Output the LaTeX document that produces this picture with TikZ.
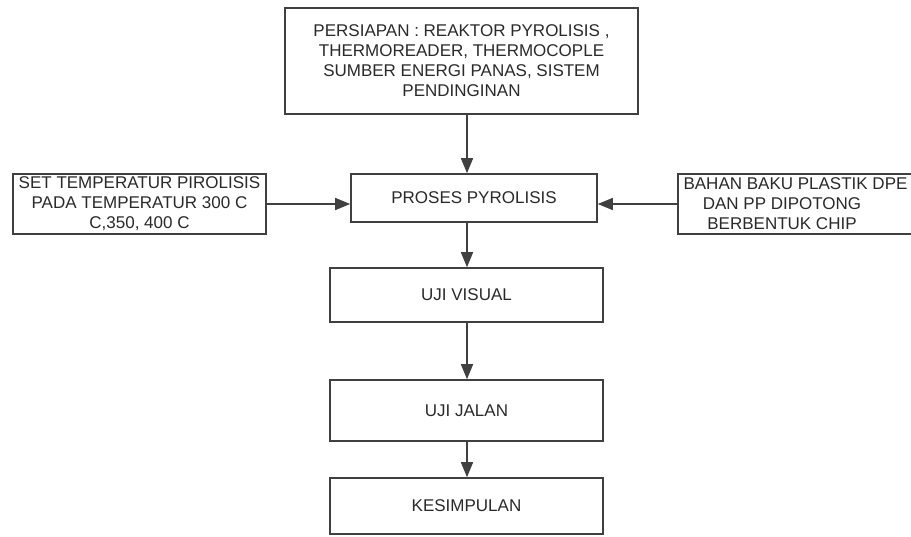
\documentclass[tikz,border=0pt]{standalone}
\usepackage{fontspec}
\setmainfont{Liberation Sans}
\usetikzlibrary{arrows.meta}
\definecolor{linec}{HTML}{404040}
\definecolor{textc}{HTML}{2A2A2A}
\begin{document}
\begin{tikzpicture}[x=1pt,y=-1pt,
  box/.style={draw=linec, line width=1.6pt, rectangle, inner sep=0pt, align=center,
    text=textc, font=\fontsize{17}{20}\selectfont},
  txt/.style={inner sep=0pt, align=center, text=textc, font=\fontsize{17}{20}\selectfont},
  arr/.style={draw=linec, line width=1.4pt, -{Triangle[length=15pt,width=12pt]}}]
\useasboundingbox[fill=white] (0,0) rectangle (911,536);
\node[box, minimum width=353pt, minimum height=106pt] (prep) at (461.5,61)
  {PERSIAPAN : REAKTOR PYROLISIS ,\\THERMOREADER, THERMOCOPLE\\SUMBER ENERGI PANAS, SISTEM\\PENDINGINAN};
\node[box, minimum width=253pt, minimum height=60pt] (set) at (139.5,204)
  {SET TEMPERATUR PIROLISIS\\PADA TEMPERATUR 300 C\\C,350, 400 C};
\node[box, minimum width=246pt, minimum height=48pt] (proses) at (474,198) {PROSES PYROLISIS};
\node[box, minimum width=237pt, minimum height=60pt] (bahan) at (796.5,204) {};
\node[txt] (bahantxt) at (782,204)
  {\hspace*{27pt}BAHAN BAKU PLASTIK DPE\\DAN PP DIPOTONG\\BERBENTUK CHIP};
\node[box, minimum width=273pt, minimum height=54pt] (visual) at (466.5,295) {UJI VISUAL};
\node[box, minimum width=273pt, minimum height=61pt] (jalan) at (466.5,410.5) {UJI JALAN};
\node[box, minimum width=273pt, minimum height=56pt] (kesim) at (466.5,506) {KESIMPULAN};
\coordinate (axis) at (467,0);
\coordinate (mid) at (0,204);
\draw[arr] (prep.south -| axis) -- (proses.north -| axis);
\draw[arr] (proses.south -| axis) -- (visual.north -| axis);
\draw[arr] (visual.south -| axis) -- (jalan.north -| axis);
\draw[arr] (jalan.south -| axis) -- (kesim.north -| axis);
\draw[arr] (set.east |- mid) -- (proses.west |- mid);
\draw[arr] (bahan.west |- mid) -- (proses.east |- mid);
\end{tikzpicture}
\end{document}
